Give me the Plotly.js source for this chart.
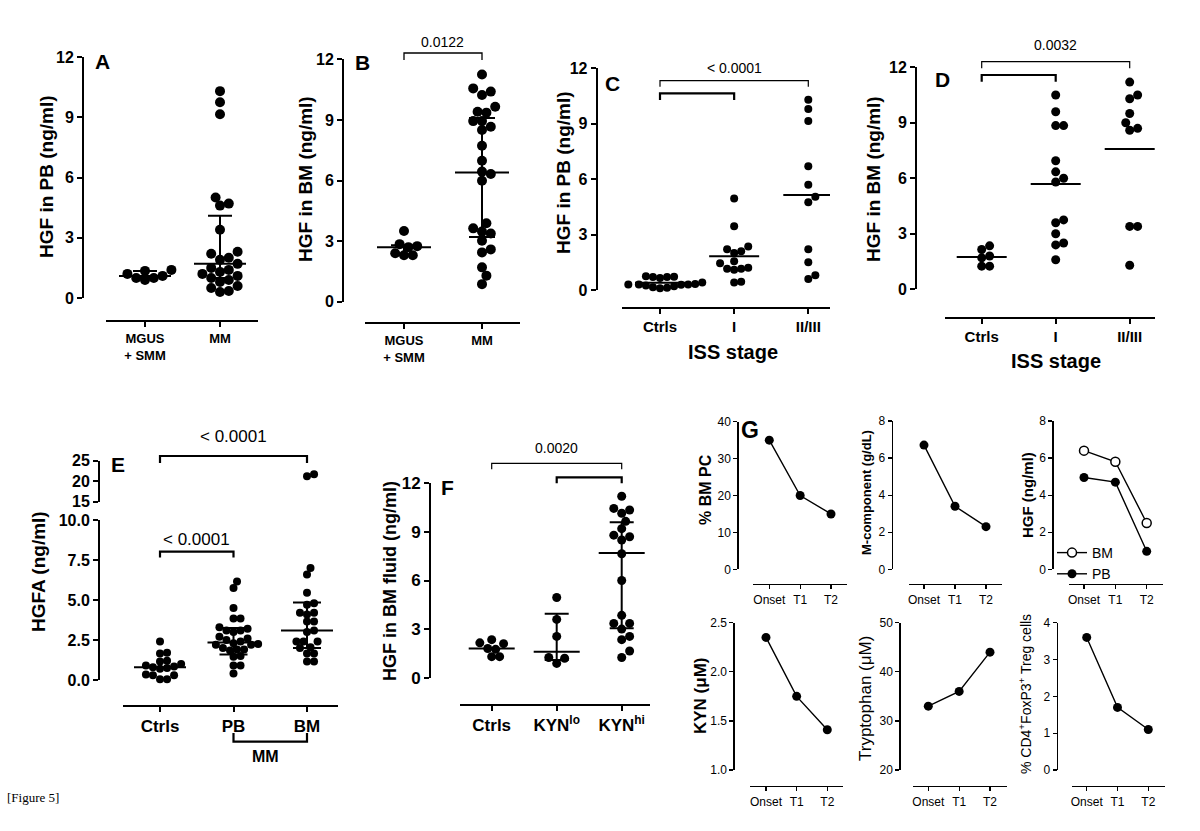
<!DOCTYPE html>
<html><head><meta charset="utf-8">
<script src="https://cdn.plot.ly/plotly-3.0.1.min.js"></script>
<style>html,body{margin:0;padding:0;background:#fff}#chart{width:1200px;height:831px}</style>
</head><body><div id="chart"></div>
<script>
// ================= DATA =================
// Panel A: HGF in PB (ng/ml)
const A_cats = ['MGUS<br>+ SMM', 'MM'];
const A_mgus = [1.4, 1.2, 1.0, 0.9, 1.1, 1.0, 1.35];
const A_mm = [10.3, 9.75, 9.15, 5.0, 4.7, 4.6, 3.4, 2.3, 2.2, 2.0, 1.9, 1.7, 1.5, 1.4, 1.3, 1.2, 1.1, 1.0, 0.9, 0.8, 0.6, 0.5, 0.35, 0.3];
const A_median = [1.1, 1.7], A_q1 = [1.0, 1.0], A_q3 = [1.35, 4.1];
// Panel B: HGF in BM (ng/ml)
const B_cats = ['MGUS<br>+ SMM', 'MM'];
const B_mgus = [3.5, 2.4, 2.75, 2.3, 2.85, 2.3, 2.7];
const B_mm = [11.25, 10.4, 10.23, 10.56, 9.65, 9.36, 9.4, 8.94, 8.94, 8.66, 8.5, 7.72, 6.98, 6.44, 6.32, 5.99, 3.88, 3.47, 3.38, 3.63, 3.02, 2.44, 2.59, 1.7, 1.29, 0.87];
const B_median = [2.7, 6.4], B_q1 = [2.35, 3.2], B_q3 = [2.8, 9.1];
const B_p = '0.0122';
// Panel C: HGF in PB by ISS stage (line = mean)
const C_cats = ['Ctrls', 'I', 'II/III'];
const C_ctrls = [0.75, 0.7, 0.65, 0.7, 0.72, 0.4, 0.35, 0.3, 0.28, 0.25, 0.3, 0.32, 0.15, 0.1, 0.12, 0.3, 0.2];
const C_I = [4.95, 3.45, 2.2, 2.35, 2.0, 2.1, 1.55, 1.45, 1.15, 1.2, 1.1, 1.15, 0.4, 0.45];
const C_II = [10.3, 9.8, 9.15, 6.7, 5.7, 5.05, 4.75, 2.2, 1.5, 0.6, 0.8];
const C_p = '< 0.0001';
// Panel D: HGF in BM by ISS stage (line = mean)
const D_cats = ['Ctrls', 'I', 'II/III'];
const D_ctrls = [1.7, 2.35, 2.15, 1.8, 1.25, 1.25];
const D_I = [10.5, 9.6, 8.85, 8.85, 6.95, 6.35, 6.0, 5.8, 3.6, 3.75, 3.0, 2.5, 2.4, 1.6];
const D_II = [11.2, 10.5, 10.3, 9.5, 9.0, 8.7, 8.6, 3.4, 3.4, 1.3];
const D_p = '0.0032';
// Panel E: HGFA (ng/ml)
const E_cats = ['Ctrls', 'PB', 'BM'];
const E_ctrls = [2.4, 1.7, 1.65, 1.2, 1.15, 1.0, 0.9, 0.85, 0.8, 0.75, 0.7, 0.35, 0.3, 0.05, 0.05, 0.3];
const E_pb = [6.15, 5.75, 4.5, 3.85, 3.85, 3.3, 3.2, 3.1, 3.1, 2.7, 2.6, 2.5, 2.3, 2.25, 2.2, 2.2, 2.0, 1.9, 1.9, 1.85, 1.45, 1.5, 0.9, 0.9, 0.4, 2.4, 3.0];
const E_bm = [21.7, 21.2, 7.0, 6.6, 5.45, 4.7, 4.8, 4.2, 4.1, 4.2, 3.65, 3.65, 3.1, 3.0, 2.4, 2.4, 2.4, 2.0, 2.05, 1.65, 1.65, 1.15, 1.15];
const E_median = [0.8, 2.35, 3.1], E_q1 = [null, 1.6, 2.0], E_q3 = [null, 3.25, 4.85];
const E_p = ['< 0.0001', '< 0.0001'];
// Panel F: HGF in BM fluid (ng/ml)
const F_cats = ['Ctrls', 'KYN<sup>lo</sup>', 'KYN<sup>hi</sup>'];
const F_ctrls = [2.35, 2.1, 2.15, 1.8, 1.75, 1.3, 1.3];
const F_lo = [4.95, 3.6, 2.55, 1.25, 1.2, 0.88];
const F_hi = [11.2, 10.35, 10.45, 10.15, 9.65, 9.2, 8.8, 8.7, 8.5, 7.65, 6.0, 3.85, 3.35, 3.35, 3.0, 2.55, 2.35, 1.65, 1.25];
const F_median = [1.8, 1.6, 7.7], F_q1 = [null, 1.1, 3.05], F_q3 = [null, 3.95, 9.6];
const F_p = '0.0020';
// Panel G: follow-up of one patient
const G_time = ['Onset', 'T1', 'T2'];
const G_bmpc = [35, 20, 15];
const G_mcomp = [6.7, 3.4, 2.3];
const G_hgf_bm = [6.4, 5.8, 2.5];
const G_hgf_pb = [4.95, 4.7, 0.97];
const G_kyn = [2.35, 1.75, 1.41];
const G_trp = [33, 36, 44];
const G_treg = [3.6, 1.7, 1.1];

// ================= HELPERS =================
const W = 1200, H = 831;
const FONT = 'Liberation Sans, Arial, Helvetica, sans-serif';
const fx = p => p / W, fy = p => 1 - p / H;
const mean = a => a.reduce((s, v) => s + v, 0) / a.length;
const traces = [], shapes = [], annotations = [];
const layout = {
  width: W, height: H, margin: {l: 0, r: 0, t: 0, b: 0},
  paper_bgcolor: 'white', plot_bgcolor: 'rgba(0,0,0,0)',
  font: {family: FONT, color: 'black'}, showlegend: true,
  legend: {x: fx(1052), y: fy(537), xanchor: 'left', yanchor: 'top', bgcolor: 'rgba(0,0,0,0)',
           font: {size: 14, family: FONT}, itemwidth: 30, tracegroupgap: 0},
  shapes, annotations
};
let nx = 0, ny = 0;
const sfx = n => n === 1 ? '' : String(n);
function axisBase(lw, tw, tl) {
  return {showgrid: false, zeroline: false, showline: true, linecolor: 'black', linewidth: lw,
          ticks: 'outside', ticklen: tl, tickwidth: tw, tickcolor: 'black', fixedrange: true};
}
function yAxis(P, g, top, bot, range, ticks, fmt) {
  ny++; const id = sfx(ny);
  layout['yaxis' + id] = Object.assign(axisBase(g.lw, g.tw, g.tl), {
    domain: [fy(bot), fy(top)], range, anchor: 'free', position: fx(g.yAxisPx),
    tickvals: ticks, tickformat: fmt || '', tickfont: g.tickFont
  });
  return {id: 'y' + id, pxPerY: (bot - top) / (range[1] - range[0])};
}
function makePanel(g) {
  nx++; const xs = sfx(nx);
  const n = g.catPx.length;
  const step = (g.catPx[n - 1] - g.catPx[0]) / (n - 1);
  layout['xaxis' + xs] = Object.assign(axisBase(g.lw, g.tw, g.tl), {
    domain: [fx(g.xStart), fx(g.xEnd)],
    range: [(g.xStart - g.catPx[0]) / step, (g.xEnd - g.catPx[0]) / step],
    anchor: 'free', position: fy(g.xAxisPy),
    tickvals: g.cats.map((c, i) => i), ticktext: g.cats, tickfont: g.catFont
  });
  const P = {xa: 'x' + xs, step, g};
  const y = yAxis(P, g, g.yTop, g.yBot, g.yRange, g.yTicks, g.yFmt);
  P.ya = y.id; P.pxPerY = y.pxPerY;
  if (g.letter) annotations.push({text: '<b>' + g.letter[0] + '</b>', x: fx(g.letter[1]), y: fy(g.letter[2]), xref: 'paper', yref: 'paper',
    showarrow: false, font: {size: g.letter[3] || 21, family: FONT}, xanchor: 'center', yanchor: 'middle'});
  annotations.push({text: g.title[0], x: fx(g.title[1]), y: fy(g.title[2]), xref: 'paper', yref: 'paper', textangle: -90,
    showarrow: false, font: g.title[3], xanchor: 'center', yanchor: 'middle'});
  return P;
}
// compact beeswarm in pixel space (points may overlap slightly, like Prism)
function swarm(vals, pxPerY, pxPerX, d) {
  const idx = vals.map((v, i) => i).sort((a, b) => vals[a] - vals[b]);
  const placed = [], off = new Array(vals.length).fill(0);
  for (const i of idx) {
    const yp = vals[i] * pxPerY;
    let best = 0;
    for (let k = 0; k < 120; k++) {
      const cand = k === 0 ? 0 : (k % 2 ? 1 : -1) * Math.ceil(k / 2) * d * 0.5;
      if (placed.every(p => Math.hypot(p.x - cand, p.y - yp) >= d)) { best = cand; break; }
    }
    placed.push({x: best, y: yp}); off[i] = best / pxPerX;
  }
  return off;
}
function dots(P, ci, vals, size, yinfo) {
  const ya = yinfo ? yinfo.id : P.ya, ppy = yinfo ? yinfo.pxPerY : P.pxPerY;
  const off = swarm(vals, ppy, P.step, size * 0.88);
  traces.push({type: 'scatter', mode: 'markers', x: vals.map((v, i) => ci + off[i]), y: vals,
    xaxis: P.xa, yaxis: ya, marker: {color: 'black', size}, cliponaxis: false, showlegend: false, hoverinfo: 'skip'});
}
function hline(P, ci, m, halfPx) {
  const h = halfPx / P.step;
  traces.push({type: 'scatter', mode: 'lines', x: [ci - h, ci + h], y: [m, m], xaxis: P.xa, yaxis: P.ya,
    line: {color: 'black', width: 2}, showlegend: false, hoverinfo: 'skip'});
}
function iqr(P, ci, m, q1, q3, capPx) {
  if (q1 == null) return;
  traces.push({type: 'scatter', mode: 'markers', x: [ci], y: [m], xaxis: P.xa, yaxis: P.ya,
    marker: {size: 1, color: 'rgba(0,0,0,0)'}, cliponaxis: false,
    error_y: {type: 'data', symmetric: false, array: [q3 - m], arrayminus: [m - q1], width: capPx, thickness: 2, color: 'black'},
    showlegend: false, hoverinfo: 'skip'});
}
function bracket(P, i0, i1, topPy, endPy, lw, text, textPy, fsize) {
  shapes.push({type: 'path', xref: P.xa, yref: 'paper', line: {color: 'black', width: lw},
    path: `M ${i0},${fy(endPy)} L ${i0},${fy(topPy)} L ${i1},${fy(topPy)} L ${i1},${fy(endPy)}`});
  if (text) annotations.push({text, x: (i0 + i1) / 2, xref: P.xa, y: fy(textPy), yref: 'paper', showarrow: false,
    font: {size: fsize || 14, family: FONT}, xanchor: 'center', yanchor: 'middle'});
}
function text(t, px, py, font, angle) {
  annotations.push({text: t, x: fx(px), y: fy(py), xref: 'paper', yref: 'paper', showarrow: false, font,
    textangle: angle || 0, xanchor: 'center', yanchor: 'middle'});
}
const big = s => ({size: s, family: FONT, color: 'black', weight: 'bold'});
const reg = s => ({size: s, family: FONT, color: 'black'});

// ================= PANEL A =================
const PA = makePanel({yAxisPx: 83, yTop: 57, yBot: 298, yRange: [0, 12], yTicks: [0, 3, 6, 9, 12],
  xStart: 106, xEnd: 258, xAxisPy: 321, catPx: [145, 220], cats: A_cats,
  lw: 2, tw: 2, tl: 5, tickFont: big(16), catFont: big(13),
  letter: ['A', 102, 62], title: ['<b>HGF in PB (ng/ml)</b>', 46, 177, reg(19)]});
[A_mgus, A_mm].forEach((v, i) => dots(PA, i, v, 10));
A_median.forEach((m, i) => { hline(PA, i, m, 26); iqr(PA, i, m, A_q1[i], A_q3[i], 12); });

// ================= PANEL B =================
const PB = makePanel({yAxisPx: 343, yTop: 59.3, yBot: 301.7, yRange: [0, 12], yTicks: [0, 3, 6, 9, 12],
  xStart: 365, xEnd: 520, xAxisPy: 323, catPx: [404, 482], cats: B_cats,
  lw: 2, tw: 2, tl: 5, tickFont: big(16), catFont: big(13),
  letter: ['B', 362, 63], title: ['<b>HGF in BM (ng/ml)</b>', 305, 179, reg(19)]});
[B_mgus, B_mm].forEach((v, i) => dots(PB, i, v, 10));
B_median.forEach((m, i) => { hline(PB, i, m, 27); iqr(PB, i, m, B_q1[i], B_q3[i], 13); });
bracket(PB, 0, 1, 53, 60, 1.3, B_p, 42, 14);

// ================= PANEL C =================
const PC = makePanel({yAxisPx: 596.7, yTop: 68.3, yBot: 290, yRange: [0, 12], yTicks: [0, 3, 6, 9, 12],
  xStart: 621.7, xEnd: 830, xAxisPy: 308.3, catPx: [660, 733.3, 808.3], cats: C_cats,
  lw: 2, tw: 2, tl: 5, tickFont: big(16), catFont: big(15),
  letter: ['C', 612, 83], title: ['<b>HGF in PB (ng/ml)</b>', 563, 173, reg(19)]});
[C_ctrls, C_I, C_II].forEach((v, i) => { dots(PC, i, v, 8); hline(PC, i, mean(v), 25); });
bracket(PC, 0, 2, 80.7, 86.7, 1.2, C_p, 68, 14);
bracket(PC, 0, 1, 93.3, 100, 2.2);
text('<b>ISS stage</b>', 733, 352, reg(20));

// ================= PANEL D =================
const PD = makePanel({yAxisPx: 916, yTop: 67.3, yBot: 289.3, yRange: [0, 12], yTicks: [0, 3, 6, 9, 12],
  xStart: 945, xEnd: 1155, xAxisPy: 317.7, catPx: [981.7, 1055.7, 1129.7], cats: D_cats,
  lw: 2, tw: 2, tl: 5, tickFont: big(16), catFont: big(15),
  letter: ['D', 942, 80], title: ['<b>HGF in BM (ng/ml)</b>', 873, 179, reg(19)]});
[D_ctrls, D_I, D_II].forEach((v, i) => { dots(PD, i, v, 9); hline(PD, i, mean(v), 25); });
bracket(PD, 0, 2, 61.7, 68.3, 1.2, D_p, 45, 14);
bracket(PD, 0, 1, 75, 81.7, 2.2);
text('<b>ISS stage</b>', 1056, 361, reg(20));

// ================= PANEL E (broken axis) =================
const PE = makePanel({yAxisPx: 99, yTop: 520, yBot: 680, yRange: [0, 10], yTicks: [0, 2.5, 5, 7.5, 10], yFmt: '.1f',
  xStart: 123, xEnd: 338, xAxisPy: 705.7, catPx: [160, 233, 307], cats: E_cats,
  lw: 2, tw: 2, tl: 5, tickFont: big(16), catFont: big(17),
  letter: ['E', 118, 465], title: ['<b>HGFA (ng/ml)</b>', 38, 572, reg(19)]});
const PEup = yAxis(PE, PE.g, 460.7, 501.7, [15, 25], [15, 20, 25]);
[E_ctrls, E_pb, E_bm].forEach((v, i) => {
  dots(PE, i, v.filter(x => x < 15), 8);
  const hi = v.filter(x => x >= 15);
  if (hi.length) dots(PE, i, hi, 8, PEup);
});
E_median.forEach((m, i) => { hline(PE, i, m, 26); iqr(PE, i, m, E_q1[i], E_q3[i], 14); });
bracket(PE, 0, 2, 456, 463, 2.2, E_p[0], 437, 17);
bracket(PE, 0, 1, 551.7, 557.5, 2.2, E_p[1], 539, 17);
bracket(PE, 1, 2, 741.7, 733, 2.2);
text('<b>MM</b>', 265, 756, reg(16));

// ================= PANEL F =================
const PF = makePanel({yAxisPx: 430, yTop: 483.3, yBot: 677.7, yRange: [0, 12], yTicks: [0, 3, 6, 9, 12],
  xStart: 460, xEnd: 650, xAxisPy: 705, catPx: [491.7, 556.7, 621.7], cats: F_cats,
  lw: 2, tw: 2, tl: 5, tickFont: big(17), catFont: big(17),
  letter: ['F', 447, 488], title: ['<b>HGF in BM fluid (ng/ml)</b>', 390, 581, reg(18)]});
[F_ctrls, F_lo, F_hi].forEach((v, i) => dots(PF, i, v, 9));
F_median.forEach((m, i) => { hline(PF, i, m, 23); iqr(PF, i, m, F_q1[i], F_q3[i], 12); });
bracket(PF, 0, 2, 463.3, 469.3, 1.2, F_p, 448, 14);
bracket(PF, 1, 2, 477.3, 483.3, 2.2);

// ================= PANEL G =================
function gPanel(cfg, series) {
  const P = makePanel(Object.assign({cats: G_time, lw: 1.3, tw: 1.2, tl: 4,
    tickFont: reg(12), catFont: reg(12)}, cfg));
  series.forEach(s => traces.push({type: 'scatter', mode: 'lines+markers', x: [0, 1, 2], y: s.y,
    xaxis: P.xa, yaxis: P.ya, cliponaxis: false, name: s.name || '', showlegend: !!s.name, hoverinfo: 'skip',
    line: {color: 'black', width: 1.4},
    marker: s.open ? {size: 9, color: 'white', line: {color: 'black', width: 1.5}} : {size: 9, color: 'black'}}));
  return P;
}
gPanel({yAxisPx: 737.3, yTop: 421.7, yBot: 569.3, yRange: [0, 40], yTicks: [0, 10, 20, 30, 40],
  xStart: 753, xEnd: 846.7, xAxisPy: 584, catPx: [769.3, 800.7, 831],
  letter: ['G', 750, 430, 23], title: ['<b>% BM PC</b>', 705, 490, reg(16)]}, [{y: G_bmpc}]);
gPanel({yAxisPx: 891.7, yTop: 421, yBot: 569.3, yRange: [0, 8], yTicks: [0, 2, 4, 6, 8],
  xStart: 909, xEnd: 1001.7, xAxisPy: 584, catPx: [924, 955, 986],
  title: ['<b>M-component (g/dL)</b>', 867, 493, reg(13)]}, [{y: G_mcomp}]);
gPanel({yAxisPx: 1052.3, yTop: 421, yBot: 569.3, yRange: [0, 8], yTicks: [0, 2, 4, 6, 8],
  xStart: 1069.3, xEnd: 1163.3, xAxisPy: 584, catPx: [1084, 1115.7, 1146.7],
  title: ['<b>HGF (ng/ml)</b>', 1027, 495, reg(15)]}, [{y: G_hgf_bm, name: 'BM', open: true}, {y: G_hgf_pb, name: 'PB'}]);
gPanel({yAxisPx: 733.3, yTop: 622.7, yBot: 770, yRange: [1, 2.5], yTicks: [1, 1.5, 2, 2.5], yFmt: '.1f',
  xStart: 750, xEnd: 843, xAxisPy: 786, catPx: [766, 796.7, 827.3],
  title: ['<b>KYN (μM)</b>', 700, 696, reg(17)]}, [{y: G_kyn}]);
gPanel({yAxisPx: 899.3, yTop: 622.7, yBot: 770, yRange: [20, 50], yTicks: [20, 30, 40, 50],
  xStart: 913, xEnd: 1006.7, xAxisPy: 786, catPx: [928.3, 959.3, 990],
  title: ['Tryptophan (μM)', 865, 699, reg(17)]}, [{y: G_trp}]);
gPanel({yAxisPx: 1056.7, yTop: 622.7, yBot: 770, yRange: [0, 4], yTicks: [0, 1, 2, 3, 4],
  xStart: 1071.7, xEnd: 1165, xAxisPy: 786, catPx: [1086.7, 1117.3, 1148.3],
  title: ['% CD4<sup>+</sup>FoxP3<sup>+</sup> Treg cells', 1025, 694, reg(14)]}, [{y: G_treg}]);

// caption
annotations.push({text: '[Figure 5]', x: fx(5), y: fy(797), xref: 'paper', yref: 'paper', showarrow: false,
  xanchor: 'left', yanchor: 'middle', font: {size: 13, family: 'Liberation Serif, Times New Roman, serif', color: 'black'}});

Plotly.newPlot('chart', traces, layout, {staticPlot: true, displayModeBar: false});
</script></body></html>
